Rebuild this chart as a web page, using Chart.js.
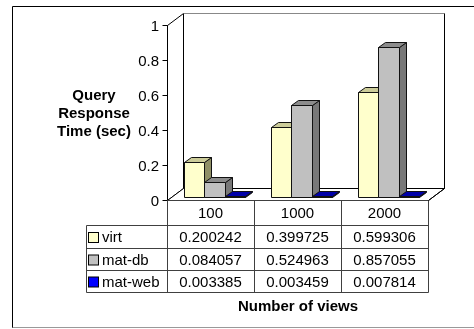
<!DOCTYPE html>
<html>
<head>
<meta charset="utf-8">
<script src="https://cdn.jsdelivr.net/npm/chart.js@4.4.1/dist/chart.umd.min.js"></script>
<style>
  html, body { margin: 0; padding: 0; background: #fff; }
  #wrap { width: 474px; height: 329px; }
</style>
</head>
<body>
<div id="wrap"><canvas id="viewsChart" width="474" height="329"></canvas></div>
<script>
// query response time per number of views
const categories = ["100", "1000", "2000"];
const seriesNames = ["virt", "mat-db", "mat-web"];
const virt = [0.200242, 0.399725, 0.599306];
const matDb = [0.084057, 0.524963, 0.857055];
const matWeb = [0.003385, 0.003459, 0.007814];
const yTicks = [0, 0.2, 0.4, 0.6, 0.8, 1];

// front / top / side face colours for each series
const faces = [
  { front: "#ffffcc", top: "#cccc99", side: "#8f8f66" },
  { front: "#c0c0c0", top: "#8c8c8c", side: "#787878" },
  { front: "#0000ff", top: "#0000a8", side: "#000080" },
];

const FONT = '"Liberation Sans", Arial, sans-serif';
const WALL_X = 16, WALL_Y = -12; // depth of the box
const BAR_X = 4, BAR_Y = -3;     // bars sit slightly behind the front plane
const SIDE_X = 7, SIDE_Y = -5;   // bar thickness
const ROW_H = [25, 23, 22, 22];   // header row + series rows

function poly(ctx, pts, fill, stroke) {
  ctx.beginPath();
  ctx.moveTo(pts[0][0], pts[0][1]);
  for (let i = 1; i < pts.length; i++) ctx.lineTo(pts[i][0], pts[i][1]);
  ctx.closePath();
  if (fill) { ctx.fillStyle = fill; ctx.fill(); }
  if (stroke) { ctx.strokeStyle = stroke; ctx.lineWidth = 1; ctx.stroke(); }
}

function line(ctx, x1, y1, x2, y2, color) {
  ctx.beginPath();
  ctx.moveTo(x1, y1);
  ctx.lineTo(x2, y2);
  ctx.strokeStyle = color;
  ctx.lineWidth = 1;
  ctx.stroke();
}

const box3d = {
  id: "box3d",
  beforeDraw(chart) {
    const ctx = chart.ctx;
    const ca = chart.chartArea;
    const y = chart.scales.y;
    const L = ca.left + 0.5, R = ca.right + 0.5;
    const B = Math.round(y.getPixelForValue(0)) + 0.5;
    const T = Math.round(y.getPixelForValue(1)) + 0.5;

    ctx.save();
    ctx.fillStyle = "#fff";
    ctx.fillRect(0, 0, chart.width, chart.height);

    // outer frame
    line(ctx, 12.5, 6.5, chart.width, 6.5, "#000");
    line(ctx, 12.5, 6.5, 12.5, 328, "#000");
    line(ctx, 12.5, 327.5, chart.width, 327.5, "#999");

    // side wall, back wall, floor
    poly(ctx, [[L, T], [L + WALL_X, T + WALL_Y], [L + WALL_X, B + WALL_Y], [L, B]], "#fff", "#000");
    poly(ctx, [[L + WALL_X, T + WALL_Y], [R + WALL_X, T + WALL_Y], [R + WALL_X, B + WALL_Y], [L + WALL_X, B + WALL_Y]], "#fff", "#000");
    line(ctx, L + WALL_X, T + WALL_Y, R + WALL_X, T + WALL_Y, "#888");
    poly(ctx, [[L, B], [L + WALL_X, B + WALL_Y], [R + WALL_X, B + WALL_Y], [R, B]], "#fff", "#000");

    // value axis with ticks
    ctx.font = "15px " + FONT;
    ctx.fillStyle = "#000";
    ctx.textAlign = "right";
    ctx.textBaseline = "middle";
    yTicks.forEach((v) => {
      const py = Math.round(y.getPixelForValue(v)) + 0.5;
      line(ctx, L - 5, py, L, py, "#000");
      ctx.fillText(String(v), L - 8.5, py + 1);
    });
    line(ctx, L, T, L, B, "#000");

    // axis title
    ctx.font = "bold 15px " + FONT;
    ctx.textAlign = "center";
    ["Query", "Response", "Time (sec)"].forEach((t, i) => {
      ctx.fillText(t, 94, 96 + i * 18);
    });
    ctx.restore();
  },
  beforeDatasetsDraw(chart) {
    const ctx = chart.ctx;
    const metas = chart.data.datasets.map((d, i) => chart.getDatasetMeta(i));
    ctx.save();
    ctx.translate(BAR_X, BAR_Y);
    // draw bar by bar so each front face covers its left neighbour's side
    for (let c = 0; c < categories.length; c++) {
      metas.forEach((meta, d) => {
        const el = meta.data[c];
        const f = faces[d];
        const l = Math.round(el.x - el.width / 2) + 0.5;
        const r = Math.round(el.x + el.width / 2) + 0.5;
        const top = Math.round(el.y) + 0.5;
        const bot = Math.round(el.base) + 0.5;
        poly(ctx, [[l, top], [r, top], [r, bot], [l, bot]], f.front, "#111");
        poly(ctx, [[r, top], [r + SIDE_X, top + SIDE_Y], [r + SIDE_X, bot + SIDE_Y], [r, bot]], f.side, "#111");
        poly(ctx, [[l, top], [l + SIDE_X, top + SIDE_Y], [r + SIDE_X, top + SIDE_Y], [r, top]], f.top, "#111");
      });
    }
    ctx.restore();
    return false;
  },
  afterDraw(chart) {
    const ctx = chart.ctx;
    const x = chart.scales.x;
    const y = chart.scales.y;
    const ca = chart.chartArea;
    const L = ca.left + 0.5, R = ca.right + 0.5;
    const B = Math.round(y.getPixelForValue(0)) + 0.5;
    const half = (x.getPixelForValue(1) - x.getPixelForValue(0)) / 2;
    const labelLeft = 86.5;
    const grid = "#404040";
    const rows = [B];
    ROW_H.forEach((h) => rows.push(rows[rows.length - 1] + h));
    const values = [virt, matDb, matWeb];

    ctx.save();
    // horizontal rules
    line(ctx, L, rows[0], R, rows[0], grid);
    for (let i = 1; i < rows.length; i++) line(ctx, labelLeft, rows[i], R, rows[i], grid);
    // vertical rules
    line(ctx, labelLeft, rows[1], labelLeft, rows[rows.length - 1], grid);
    line(ctx, L, rows[0], L, rows[rows.length - 1], grid);
    categories.forEach((c, i) => {
      const xr = Math.round(x.getPixelForValue(i) + half) + 0.5;
      line(ctx, xr, rows[0], xr, rows[rows.length - 1], grid);
    });
    // floor right edge ends at the table corner
    line(ctx, R, B, R + WALL_X, B + WALL_Y, "#000");

    ctx.font = "15px " + FONT;
    ctx.fillStyle = "#000";
    ctx.textBaseline = "middle";
    ctx.textAlign = "center";
    categories.forEach((c, i) => {
      ctx.fillText(c, x.getPixelForValue(i), (rows[0] + rows[1]) / 2 + 1);
    });
    seriesNames.forEach((name, s) => {
      const cy = (rows[s + 1] + rows[s + 2]) / 2 + 1;
      // legend key
      ctx.fillStyle = faces[s].front;
      ctx.fillRect(88.5, cy - 5.5, 10, 10);
      ctx.strokeStyle = "#000";
      ctx.strokeRect(88.5, cy - 5.5, 10, 10);
      ctx.fillStyle = "#000";
      ctx.textAlign = "left";
      ctx.fillText(name, 102, cy);
      ctx.textAlign = "center";
      values[s].forEach((v, i) => {
        ctx.fillText(v.toFixed(6), x.getPixelForValue(i), cy);
      });
    });

    ctx.font = "bold 15px " + FONT;
    ctx.fillText("Number of views", (L + R) / 2, 307);
    ctx.restore();
  },
};

const ctx = document.getElementById("viewsChart").getContext("2d");
const viewsChart = new Chart(ctx, {
  type: "bar",
  data: {
    labels: categories,
    datasets: [
      { label: seriesNames[0], data: virt, backgroundColor: faces[0].front },
      { label: seriesNames[1], data: matDb, backgroundColor: faces[1].front },
      { label: seriesNames[2], data: matWeb, backgroundColor: faces[2].front },
    ],
  },
  options: {
    responsive: false,
    animation: false,
    devicePixelRatio: 1,
    layout: { padding: { left: 167, right: 46, top: 25, bottom: 129 } },
    datasets: { bar: { categoryPercentage: 0.69, barPercentage: 1 } },
    scales: {
      x: { display: false, offset: true },
      y: { display: false, min: 0, max: 1 },
    },
    plugins: {
      legend: { display: false },
      tooltip: { enabled: false },
    },
  },
  plugins: [box3d],
});
</script>
</body>
</html>
